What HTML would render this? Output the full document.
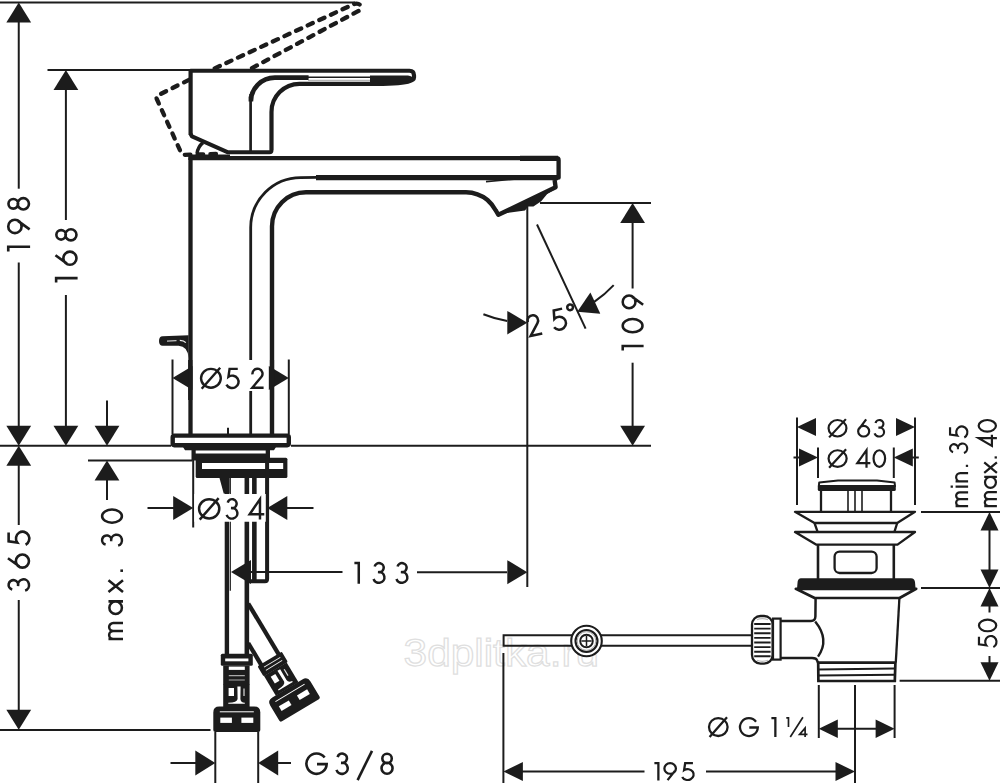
<!DOCTYPE html>
<html><head><meta charset="utf-8"><title>Drawing</title>
<style>html,body{margin:0;padding:0;background:#fff;overflow:hidden}svg{display:block}</style></head>
<body><svg width="1000" height="783" viewBox="0 0 1000 783" font-family="'Liberation Sans', sans-serif">
<rect width="1000" height="783" fill="#fff"/>
<text x="403.6" y="666" opacity="0.99" font-size="38.5" fill="none" stroke="#dfdfdf" stroke-width="1.25" textLength="195.5" lengthAdjust="spacingAndGlyphs">3dplitka.ru</text>
<path d="M0 2.5L355 2.5" stroke="#1c1c1c" stroke-width="2.0" fill="none" />
<path d="M18.75 2.50L31.15 22.50L6.35 22.50Z" fill="#1c1c1c"/>
<path d="M18.75 22L18.75 188.7" stroke="#1c1c1c" stroke-width="2.0" fill="none" />
<path d="M18.75 262.5L18.75 426" stroke="#1c1c1c" stroke-width="2.0" fill="none" />
<path d="M18.75 445.80L6.35 425.80L31.15 425.80Z" fill="#1c1c1c"/>
<path d="M47.5 70L190 70" stroke="#1c1c1c" stroke-width="2.0" fill="none" />
<path d="M65.90 70.00L78.30 90.00L53.50 90.00Z" fill="#1c1c1c"/>
<path d="M65.9 89L65.9 220" stroke="#1c1c1c" stroke-width="2.0" fill="none" />
<path d="M65.9 295L65.9 426" stroke="#1c1c1c" stroke-width="2.0" fill="none" />
<path d="M65.90 445.80L53.50 425.80L78.30 425.80Z" fill="#1c1c1c"/>
<path d="M0 445.8L171 445.8" stroke="#1c1c1c" stroke-width="2.0" fill="none" />
<path d="M291 445.8L651 445.8" stroke="#1c1c1c" stroke-width="2.0" fill="none" />
<path d="M18.75 445.80L31.15 465.80L6.35 465.80Z" fill="#1c1c1c"/>
<path d="M18.75 465L18.75 525" stroke="#1c1c1c" stroke-width="2.0" fill="none" />
<path d="M18.75 600L18.75 710" stroke="#1c1c1c" stroke-width="2.0" fill="none" />
<path d="M18.75 729.70L6.35 709.70L31.15 709.70Z" fill="#1c1c1c"/>
<path d="M0 730L210.5 730" stroke="#1c1c1c" stroke-width="2.0" fill="none" />
<path d="M107 400.5L107 426" stroke="#1c1c1c" stroke-width="2.0" fill="none" />
<path d="M107.00 445.80L94.60 425.80L119.40 425.80Z" fill="#1c1c1c"/>
<path d="M88 460.4L192.5 460.4" stroke="#1c1c1c" stroke-width="2.0" fill="none" />
<path d="M107.00 460.40L119.40 480.40L94.60 480.40Z" fill="#1c1c1c"/>
<path d="M107 479L107 500" stroke="#1c1c1c" stroke-width="2.0" fill="none" />
<path d="M212 69.6L354.5 3.8Q361 2.5 360.6 8.2Q360.3 10.2 358 11.2L251 68.6" stroke="#1c1c1c" stroke-width="4.3" fill="none" stroke-dasharray="5.6 7.2" stroke-linecap="round" stroke-dashoffset="-3"/>
<path d="M189 79.8L158 95.3Q155.6 96.6 156.8 99L181 152.5Q182 154.8 184.5 154.8L222 153.8" stroke="#1c1c1c" stroke-width="4.3" fill="none" stroke-dasharray="5.6 7.2" stroke-linecap="round"/>
<path d="M190.6 135L190.6 70.75L409.5 70.75Q414 70.75 414 75.2L414 77.5Q414 80.2 408 81.6Q398 83.9 370 83.9L299.5 83.9A28 28 0 0 0 271.5 111.9L271.5 150" stroke="#1c1c1c" stroke-width="4.2" fill="none" stroke-linejoin="round"/>
<path d="M190.6 134L192 136.4L228 152.3L269.5 152.3Q271.5 152.3 271.5 150" stroke="#1c1c1c" stroke-width="4.0" fill="none" stroke-linejoin="round"/>
<path d="M250.9 96.5L250.9 101.6A24 24 0 0 1 274.9 77.6L308.6 77.6" stroke="#1c1c1c" stroke-width="4.6" fill="none" />
<path d="M250.6 94L250.6 151" stroke="#1c1c1c" stroke-width="2.7" fill="none" />
<path d="M308 77.2L371 77.2" stroke="#1c1c1c" stroke-width="1.5" fill="none" />
<path d="M308 80.3H371" stroke="#999" stroke-width="0.9"/>
<path d="M370 75.4L408 75.4Q412.5 76 412.5 78Q412 80 406 81.4Q396 83.2 370 84.2Z" fill="#1c1c1c"/>
<path d="M197 153.5Q198 146.5 203 142.6" stroke="#1c1c1c" stroke-width="3.4" fill="none" />
<path d="M190.5 434L190.5 158.2L556.5 158.2Q558.6 158.2 558.6 160.2L558.6 177.7L316 177.7" stroke="#1c1c1c" stroke-width="4.3" fill="none" stroke-linejoin="round"/>
<path d="M520 158.4L558 158.4" stroke="#1c1c1c" stroke-width="5.2" fill="none" />
<path d="M316 177.7L558 177.7" stroke="#1c1c1c" stroke-width="5.2" fill="none" />
<path d="M486 181.6L520 178.6" stroke="#1c1c1c" stroke-width="1.6" fill="none" />
<path d="M188.4 157.2L230 157.2" stroke="#1c1c1c" stroke-width="5.6" fill="none" />
<path d="M317 177.4L300.6 177.6A50 50 0 0 0 250.7 227.6L250.7 360" stroke="#1c1c1c" stroke-width="2.8" fill="none" />
<path d="M250.7 391L250.7 434" stroke="#1c1c1c" stroke-width="2.8" fill="none" />
<path d="M272 434L272 226.3A34 34 0 0 1 306 192.3L466 192.3Q478 192.5 487.5 200Q492.5 204.4 495.6 210.2L498.4 214.8L555.6 187.2L554.6 180" stroke="#1c1c1c" stroke-width="4.4" fill="none" stroke-linejoin="round"/>
<path d="M498.4 214.6L555.6 187L554 189.8L547.2 194L541.2 201.2L533.4 206.4L528.2 206.4L525 210.4L508.5 212.8Z" fill="#1c1c1c"/>
<path d="M162.6 336.2L188.6 335.3L188.6 358Q187.6 346.2 178.6 345.8L162.6 345.8Q159 345.8 159 341Q159 336.2 162.6 336.2Z" fill="#1c1c1c"/>
<path d="M167 341.1L176.5 340.7" stroke="#f2f2f2" stroke-width="1" fill="none"/>
<path d="M179.8 340.3Q184 340.5 185.8 342.6" stroke="#f2f2f2" stroke-width="1.2" fill="none"/>
<path d="M172.5 359.5L172.5 434" stroke="#1c1c1c" stroke-width="2.0" fill="none" />
<path d="M288.8 359.5L288.8 434" stroke="#1c1c1c" stroke-width="2.0" fill="none" />
<path d="M172.50 378.00L192.50 366.00L192.50 390.00Z" fill="#1c1c1c"/>
<path d="M288.80 378.00L268.80 390.00L268.80 366.00Z" fill="#1c1c1c"/>
<path d="M190.25 360L190.25 400" stroke="#1c1c1c" stroke-width="4.2" fill="none" />
<path d="M272 360L272 400" stroke="#1c1c1c" stroke-width="4.2" fill="none" />
<path d="M228 427.7L228 434" stroke="#1c1c1c" stroke-width="2.0" fill="none" />
<rect x="172.7" y="435.6" width="116.1" height="9.6" rx="1.6" fill="#fff" stroke="#1c1c1c" stroke-width="4.4"/>
<path d="M183 447L276 447L274 450.2L270 450.2L270 460.6L191.5 460.6L191.5 450.2L185 450.2Z" fill="#1c1c1c"/>
<path d="M195.7 450.6H265.7V453.6H195.7Z" fill="#fff"/>
<rect x="195.7" y="457.8" width="91.7" height="20.2" rx="1.5" fill="#1c1c1c"/>
<path d="M202 463H283.2V469H202Z" fill="#fff"/>
<path d="M267.8 456L267.8 478" stroke="#1c1c1c" stroke-width="1.6" fill="none" />
<path d="M219.5 478L229.6 478L229.6 493.5L223.7 493.5Z" fill="#1c1c1c"/>
<path d="M230.3 478L230.3 590.7" stroke="#1c1c1c" stroke-width="1.2" fill="none" />
<path d="M226.9 493L226.9 655" stroke="#1c1c1c" stroke-width="4.4" fill="none" />
<path d="M246.85 478L246.85 655" stroke="#1c1c1c" stroke-width="4.6" fill="none" />
<path d="M254.35 478L254.35 580" stroke="#1c1c1c" stroke-width="4.6" fill="none" />
<path d="M267.1 456L267.1 579Q267.1 581.2 265 581.2L246 581.2" stroke="#1c1c1c" stroke-width="4.0" fill="none" />
<g transform="translate(236.8 732) rotate(0)">
<path d="M-21.5 0Q-23.5 0 -23.5 -2L-23.5 -19.5Q-23.5 -25.4 -17.5 -25.4L17.5 -25.4Q23.5 -25.4 23.5 -19.5L23.5 -2Q23.5 0 21.5 0Z" fill="#1c1c1c"/>
<path d="M-17 -20.2H17" stroke="#fff" stroke-width="1.0"/>
<rect x="-16.5" y="-14.4" width="11.6" height="5.3" fill="#fff"/>
<rect x="4.6" y="-14.4" width="11.9" height="5.3" fill="#fff"/>
<rect x="-13.6" y="-48" width="26.4" height="23" fill="#1c1c1c"/>
<path d="M0.6 -45.6L3.8 -45.6L3.6 -33Q3.8 -29.6 8 -29.2L8 -28.2L-8.5 -28.2L-8.5 -29.2Q0.4 -29.4 0.8 -33Z" fill="#fff"/>
<rect x="-8.2" y="-44" width="5.4" height="8" fill="#fff"/>
<path d="M7.2 -43.5L7.2 -36" stroke="#ddd" stroke-width="1.2"/>
<rect x="-13.6" y="-66.5" width="26.4" height="19" fill="#1c1c1c"/>
<rect x="-8" y="-65.4" width="16" height="3.3" fill="#fff"/>
<path d="M-8 -56.4H8M-8 -52H8" stroke="#aaa" stroke-width="1.1"/>
<rect x="-16" y="-78.3" width="32" height="12" rx="1.5" fill="#1c1c1c"/>
<rect x="-11.6" y="-73.5" width="23.2" height="2.8" fill="#fff"/>
</g>
<g transform="translate(300.4 710.2) rotate(-31.0)">
<path d="M-21.5 0Q-23.5 0 -23.5 -2L-23.5 -19.5Q-23.5 -25.4 -17.5 -25.4L17.5 -25.4Q23.5 -25.4 23.5 -19.5L23.5 -2Q23.5 0 21.5 0Z" fill="#1c1c1c"/>
<path d="M-17 -20.2H17" stroke="#fff" stroke-width="1.0"/>
<rect x="-16.5" y="-14.4" width="11.6" height="5.3" fill="#fff"/>
<rect x="4.6" y="-14.4" width="11.9" height="5.3" fill="#fff"/>
<rect x="-13.6" y="-48" width="26.4" height="23" fill="#1c1c1c"/>
<path d="M0.6 -45.6L3.8 -45.6L3.6 -33Q3.8 -29.6 8 -29.2L8 -28.2L-8.5 -28.2L-8.5 -29.2Q0.4 -29.4 0.8 -33Z" fill="#fff"/>
<rect x="-8.2" y="-44" width="5.4" height="8" fill="#fff"/>
<path d="M7.2 -43.5L7.2 -36" stroke="#ddd" stroke-width="1.2"/>
<rect x="-14.2" y="-59.8" width="28.4" height="12" rx="1.5" fill="#1c1c1c"/>
<path d="M-9 -55.6H10M-9 -52H10" stroke="#eee" stroke-width="0.9"/>
</g>
<path d="M278.86 654.55L248.2 603.52" stroke="#1c1c1c" stroke-width="4.3" fill="none" />
<path d="M261.37 665.05L248.2 643.13" stroke="#1c1c1c" stroke-width="4.3" fill="none" />
<path d="M193.2 460L193.2 527.5" stroke="#1c1c1c" stroke-width="2.0" fill="none" />
<path d="M194.2 494H266.3V521.7H194.2Z" fill="#fff"/>
<path d="M267 494L267 522" stroke="#1c1c1c" stroke-width="2.4" fill="none" />
<path d="M193.20 508.00L173.20 520.00L173.20 496.00Z" fill="#1c1c1c"/>
<path d="M147.5 508L174 508" stroke="#1c1c1c" stroke-width="2.0" fill="none" />
<path d="M267.30 508.00L287.30 496.00L287.30 520.00Z" fill="#1c1c1c"/>
<path d="M287 508L313.5 508" stroke="#1c1c1c" stroke-width="2.0" fill="none" />
<path d="M231.00 572.00L251.00 560.00L251.00 584.00Z" fill="#1c1c1c"/>
<path d="M250 572L342.5 572" stroke="#1c1c1c" stroke-width="2.0" fill="none" />
<path d="M417 572.2L507 572.2" stroke="#1c1c1c" stroke-width="2.0" fill="none" />
<path d="M527.30 572.20L507.30 584.20L507.30 560.20Z" fill="#1c1c1c"/>
<path d="M527.3 205L527.3 587" stroke="#1c1c1c" stroke-width="2.0" fill="none" />
<path d="M215.3 732L215.3 783" stroke="#1c1c1c" stroke-width="2.0" fill="none" />
<path d="M258.2 732L258.2 783" stroke="#1c1c1c" stroke-width="2.0" fill="none" />
<path d="M215.30 763.00L195.30 775.50L195.30 750.50Z" fill="#1c1c1c"/>
<path d="M170.5 763L196 763" stroke="#1c1c1c" stroke-width="2.0" fill="none" />
<path d="M258.20 763.00L278.20 750.50L278.20 775.50Z" fill="#1c1c1c"/>
<path d="M278 763L291 763" stroke="#1c1c1c" stroke-width="2.0" fill="none" />
<path d="M540 203L651 203" stroke="#1c1c1c" stroke-width="2.0" fill="none" />
<path d="M632.60 203.00L645.00 223.00L620.20 223.00Z" fill="#1c1c1c"/>
<path d="M632.6 222L632.6 288.5" stroke="#1c1c1c" stroke-width="2.0" fill="none" />
<path d="M632.6 362.7L632.6 426" stroke="#1c1c1c" stroke-width="2.0" fill="none" />
<path d="M632.60 445.80L620.20 425.80L645.00 425.80Z" fill="#1c1c1c"/>
<path d="M537 224.5L585.6 328.6" stroke="#1c1c1c" stroke-width="2.0" fill="none" />
<path d="M527.30 322.70L507.30 334.45L507.30 310.95Z" fill="#1c1c1c"/>
<path d="M507.2 321.0A118.2 118.2 0 0 1 483.4 314.2" stroke="#1c1c1c" stroke-width="2.0" fill="none" />
<path d="M577.25 311.63L590.41 292.52L600.35 313.82Z" fill="#1c1c1c"/>
<path d="M594.2 301.9A118.2 118.2 0 0 0 613.7 285.1" stroke="#1c1c1c" stroke-width="2.0" fill="none" />
<path d="M797 417.5L797 505" stroke="#1c1c1c" stroke-width="2.0" fill="none" />
<path d="M915 417.5L915 505" stroke="#1c1c1c" stroke-width="2.0" fill="none" />
<path d="M797.00 427.00L816.00 418.00L816.00 436.00Z" fill="#1c1c1c"/>
<path d="M915.00 427.00L896.00 436.00L896.00 418.00Z" fill="#1c1c1c"/>
<path d="M818 447.5L818 478" stroke="#1c1c1c" stroke-width="2.0" fill="none" />
<path d="M893.8 447.5L893.8 478" stroke="#1c1c1c" stroke-width="2.0" fill="none" />
<path d="M818.00 457.50L799.00 466.50L799.00 448.50Z" fill="#1c1c1c"/>
<path d="M793.5 457.5L800 457.5" stroke="#1c1c1c" stroke-width="2.0" fill="none" />
<path d="M893.80 457.50L912.80 448.50L912.80 466.50Z" fill="#1c1c1c"/>
<path d="M912 457.5L918.8 457.5" stroke="#1c1c1c" stroke-width="2.0" fill="none" />
<path d="M818.8 486L819.2 482.6L838 480.5L877 480.5L894.6 482.6L895 486Z" stroke="#1c1c1c" stroke-width="2.0" fill="#fff" stroke-linejoin="round"/>
<rect x="817.8" y="485" width="78" height="6" rx="1.5" fill="#1c1c1c"/>
<path d="M821 490L821 511.5" stroke="#1c1c1c" stroke-width="2.3" fill="none" />
<path d="M891 490L891 511.5" stroke="#1c1c1c" stroke-width="2.3" fill="none" />
<path d="M848 490L848 511.5" stroke="#1c1c1c" stroke-width="1.6" fill="none" />
<path d="M855 490L855 511.5" stroke="#1c1c1c" stroke-width="1.6" fill="none" />
<path d="M862 490L862 511.5" stroke="#1c1c1c" stroke-width="1.6" fill="none" />
<path d="M795 511.8L915 511.8L897.2 523L814.5 523Z" stroke="#1c1c1c" stroke-width="2.3" fill="none" stroke-linejoin="round"/>
<path d="M814.5 523L817.5 531.6M897.2 523L894.5 531.6" stroke="#1c1c1c" stroke-width="2.3" fill="none" />
<path d="M795 532L915 532L897.5 544.6L816 544.6Z" stroke="#1c1c1c" stroke-width="2.3" fill="none" stroke-linejoin="round"/>
<path d="M818 544.6L818 579" stroke="#1c1c1c" stroke-width="2.5999999999999996" fill="none" />
<path d="M893.8 544.6L893.8 579" stroke="#1c1c1c" stroke-width="2.5999999999999996" fill="none" />
<rect x="834.6" y="551.6" width="42" height="21.4" rx="5" fill="none" stroke="#1c1c1c" stroke-width="2.3"/>
<path d="M801 578.2L911 578.2Q914.5 578.4 915 582L915.6 589L797 589L797.6 582Q798 578.4 801 578.2Z" fill="#1c1c1c"/>
<path d="M795.8 588.8L916.2 588.8L899.6 598L814.6 598Z" stroke="#1c1c1c" stroke-width="2.6999999999999997" fill="none" stroke-linejoin="round"/>
<path d="M815.6 598L815.4 616.5Q815.2 621 811 621L780.4 621" stroke="#1c1c1c" stroke-width="2.5" fill="none" />
<path d="M780.4 658L812 658Q816.4 658 817.2 660.6L818.4 663.6" stroke="#1c1c1c" stroke-width="2.5" fill="none" />
<path d="M815.2 621.6Q830 640 818 656.6" stroke="#1c1c1c" stroke-width="2.4" fill="none" />
<path d="M899.4 598L895.8 662.5" stroke="#1c1c1c" stroke-width="2.3" fill="none" />
<path d="M818.2 662.6L895.4 662.6L894.8 681L818.4 681Z" stroke="#1c1c1c" stroke-width="2.6999999999999997" fill="none" />
<path d="M818.4 669.4L895 668.6M818.4 675.5L895 674.8" stroke="#1c1c1c" stroke-width="2.0" fill="none" />
<rect x="773" y="618.6" width="7.6" height="41" fill="#fff" stroke="#1c1c1c" stroke-width="2.2"/>
<rect x="752" y="616" width="20.6" height="47.6" rx="8.5" fill="#fff" stroke="#1c1c1c" stroke-width="2.3"/>
<path d="M757 619.6Q762 617.6 768 619.6M757 660.2Q762 662.4 768 660.2" stroke="#bbb" stroke-width="1.2" fill="none"/>
<path d="M754.2 624.0H770.6M754.2 628.6H770.6M754.2 633.2H770.6M754.2 637.9H770.6M754.2 642.5H770.6M754.2 647.1H770.6M754.2 651.7H770.6M754.2 656.3H770.6" stroke="#1c1c1c" stroke-width="1.9" fill="none" />
<path d="M751 635.2L503.6 635.2L503.6 645.8L751 645.8" stroke="#1c1c1c" stroke-width="2.0" fill="none" />
<circle cx="586.5" cy="641" r="15.3" fill="#fff" stroke="#1c1c1c" stroke-width="2.1"/>
<circle cx="586.5" cy="641" r="11" fill="#fff" stroke="#1c1c1c" stroke-width="2.1"/>
<circle cx="586.5" cy="641" r="9.3" fill="none" stroke="#8a8a8a" stroke-width="0.7"/>
<circle cx="586.5" cy="641" r="6.3" fill="#fff" stroke="#1c1c1c" stroke-width="1.9"/>
<path d="M581.4 641H591.6M586.5 636V646" stroke="#1c1c1c" stroke-width="1.5" fill="none" />
<path d="M921 512L1000 512" stroke="#1c1c1c" stroke-width="2.0" fill="none" />
<path d="M921 588L1000 588" stroke="#1c1c1c" stroke-width="2.0" fill="none" />
<path d="M899.6 680.8L1000 680.8" stroke="#1c1c1c" stroke-width="2.0" fill="none" />
<path d="M989.50 512.00L998.50 530.50L980.50 530.50Z" fill="#1c1c1c"/>
<path d="M989.5 530L989.5 570" stroke="#1c1c1c" stroke-width="2.0" fill="none" />
<path d="M989.50 588.00L980.50 569.50L998.50 569.50Z" fill="#1c1c1c"/>
<path d="M989.50 588.00L998.50 606.50L980.50 606.50Z" fill="#1c1c1c"/>
<path d="M989.5 606L989.5 612.5" stroke="#1c1c1c" stroke-width="2.0" fill="none" />
<path d="M989.5 656L989.5 663" stroke="#1c1c1c" stroke-width="2.0" fill="none" />
<path d="M989.50 680.80L980.50 662.30L998.50 662.30Z" fill="#1c1c1c"/>
<path d="M818.8 685L818.8 738" stroke="#1c1c1c" stroke-width="2.0" fill="none" />
<path d="M894.6 685L894.6 738" stroke="#1c1c1c" stroke-width="2.0" fill="none" />
<path d="M855 685L855 783" stroke="#1c1c1c" stroke-width="2.0" fill="none" />
<path d="M818.80 728.80L837.80 719.55L837.80 738.05Z" fill="#1c1c1c"/>
<path d="M894.60 728.80L875.60 738.05L875.60 719.55Z" fill="#1c1c1c"/>
<path d="M837 728.8L876 728.8" stroke="#1c1c1c" stroke-width="2.0" fill="none" />
<path d="M503.4 653L503.4 783" stroke="#1c1c1c" stroke-width="2.0" fill="none" />
<path d="M503.40 771.50L522.90 762.10L522.90 780.90Z" fill="#1c1c1c"/>
<path d="M522 771.5L644.5 771.5" stroke="#1c1c1c" stroke-width="2.0" fill="none" />
<path d="M706 771.5L836 771.5" stroke="#1c1c1c" stroke-width="2.0" fill="none" />
<path d="M855.00 771.50L835.50 780.90L835.50 762.10Z" fill="#1c1c1c"/>
<path transform="translate(30.1 251.4) rotate(-90) scale(23.0 23) translate(0 -1)" d="M0 .05L.2 .05L.2 1" fill="none" stroke="#1c1c1c" stroke-width="0.115"/>
<path transform="translate(30.1 234.2) rotate(-90) scale(23.0 23) translate(0 -1)" d="M.21 .98L.58 .47M.34 .05A.29 .29 0 1 1 .34 .63A.29 .29 0 1 1 .34 .05Z" fill="none" stroke="#1c1c1c" stroke-width="0.115"/>
<path transform="translate(30.1 210.6) rotate(-90) scale(23.0 23) translate(0 -1)" d="M.295 .06A.21 .21 0 1 1 .295 .48A.21 .21 0 1 1 .295 .06ZM.295 .46A.245 .245 0 1 1 .295 .95A.245 .245 0 1 1 .295 .46Z" fill="none" stroke="#1c1c1c" stroke-width="0.115"/>
<path transform="translate(77.6 282.6) rotate(-90) scale(22.6 22.6) translate(0 -1)" d="M0 .05L.2 .05L.2 1" fill="none" stroke="#1c1c1c" stroke-width="0.115"/>
<path transform="translate(77.6 265.9) rotate(-90) scale(22.6 22.6) translate(0 -1)" d="M.47 .02L.10 .53M.34 .37A.29 .29 0 1 1 .34 .95A.29 .29 0 1 1 .34 .37Z" fill="none" stroke="#1c1c1c" stroke-width="0.115"/>
<path transform="translate(77.6 241.5) rotate(-90) scale(22.6 22.6) translate(0 -1)" d="M.295 .06A.21 .21 0 1 1 .295 .48A.21 .21 0 1 1 .295 .06ZM.295 .46A.245 .245 0 1 1 .295 .95A.245 .245 0 1 1 .295 .46Z" fill="none" stroke="#1c1c1c" stroke-width="0.115"/>
<path transform="translate(30.1 591.3) rotate(-90) scale(22.6 22.6) translate(0 -1)" d="M.08 .21A.21 .21 0 1 1 .24 .465A.255 .245 0 1 1 .03 .78" fill="none" stroke="#1c1c1c" stroke-width="0.115"/>
<path transform="translate(30.1 568.8) rotate(-90) scale(22.6 22.6) translate(0 -1)" d="M.47 .02L.10 .53M.34 .37A.29 .29 0 1 1 .34 .95A.29 .29 0 1 1 .34 .37Z" fill="none" stroke="#1c1c1c" stroke-width="0.115"/>
<path transform="translate(30.1 545.2) rotate(-90) scale(22.6 22.6) translate(0 -1)" d="M.56 .05L.17 .05L.115 .43A.305 .295 0 1 1 .02 .80" fill="none" stroke="#1c1c1c" stroke-width="0.115"/>
<path transform="translate(123 640) rotate(-90) scale(22.0 22) translate(0 -1)" d="M.05 .34L.05 1M.05 .56A.18 .19 0 0 1 .41 .56L.41 1M.41 .56A.18 .19 0 0 1 .77 .56L.77 1" fill="none" stroke="#1c1c1c" stroke-width="0.115"/>
<path transform="translate(123 615) rotate(-90) scale(22.0 22) translate(0 -1)" d="M.62 .34L.62 1M.33 .38A.285 .285 0 1 1 .33 .95A.285 .285 0 1 1 .33 .38Z" fill="none" stroke="#1c1c1c" stroke-width="0.115"/>
<path transform="translate(123 592.5) rotate(-90) scale(22.0 22) translate(0 -1)" d="M.02 .34L.56 1M.56 .34L.02 1" fill="none" stroke="#1c1c1c" stroke-width="0.115"/>
<path transform="translate(123 572) rotate(-90) scale(22.0 22) translate(0 -1)" d="M.06 .88L.06 1" fill="none" stroke="#1c1c1c" stroke-width="0.115"/>
<path transform="translate(123 546.3) rotate(-90) scale(22.0 22) translate(0 -1)" d="M.08 .21A.21 .21 0 1 1 .24 .465A.255 .245 0 1 1 .03 .78" fill="none" stroke="#1c1c1c" stroke-width="0.115"/>
<path transform="translate(123 523.8) rotate(-90) scale(22.0 22) translate(0 -1)" d="M.35 .05A.30 .45 0 1 1 .35 .95A.30 .45 0 1 1 .35 .05Z" fill="none" stroke="#1c1c1c" stroke-width="0.115"/>
<path transform="translate(643.6 350.4) rotate(-90) scale(22.0 22) translate(0 -1)" d="M0 .05L.2 .05L.2 1" fill="none" stroke="#1c1c1c" stroke-width="0.115"/>
<path transform="translate(643.6 333.4) rotate(-90) scale(22.0 22) translate(0 -1)" d="M.35 .05A.30 .45 0 1 1 .35 .95A.30 .45 0 1 1 .35 .05Z" fill="none" stroke="#1c1c1c" stroke-width="0.115"/>
<path transform="translate(643.6 309.4) rotate(-90) scale(22.0 22) translate(0 -1)" d="M.21 .98L.58 .47M.34 .05A.29 .29 0 1 1 .34 .63A.29 .29 0 1 1 .34 .05Z" fill="none" stroke="#1c1c1c" stroke-width="0.115"/>
<path transform="translate(200 388.8) rotate(0) scale(21.0 21) translate(0 -1)" d="M.52 .05A.47 .45 0 1 1 .52 .95A.47 .45 0 1 1 .52 .05ZM.08 1L.96 0" fill="none" stroke="#1c1c1c" stroke-width="0.115"/>
<path transform="translate(226 388.8) rotate(0) scale(21.0 21) translate(0 -1)" d="M.56 .05L.17 .05L.115 .43A.305 .295 0 1 1 .02 .80" fill="none" stroke="#1c1c1c" stroke-width="0.115"/>
<path transform="translate(251 388.8) rotate(0) scale(21.0 21) translate(0 -1)" d="M.07 .31A.24 .24 0 1 1 .49 .44L.06 .95L.60 .95" fill="none" stroke="#1c1c1c" stroke-width="0.115"/>
<path transform="translate(198 519.6) rotate(0) scale(21.5 21.5) translate(0 -1)" d="M.52 .05A.47 .45 0 1 1 .52 .95A.47 .45 0 1 1 .52 .05ZM.08 1L.96 0" fill="none" stroke="#1c1c1c" stroke-width="0.115"/>
<path transform="translate(226 519.6) rotate(0) scale(21.5 21.5) translate(0 -1)" d="M.08 .21A.21 .21 0 1 1 .24 .465A.255 .245 0 1 1 .03 .78" fill="none" stroke="#1c1c1c" stroke-width="0.115"/>
<path transform="translate(248.8 519.6) rotate(0) scale(21.5 21.5) translate(0 -1)" d="M.52 1L.52 .05L.04 .75L.72 .75" fill="none" stroke="#1c1c1c" stroke-width="0.115"/>
<path transform="translate(354.4 583.8) rotate(0) scale(21.8 21.8) translate(0 -1)" d="M0 .05L.2 .05L.2 1" fill="none" stroke="#1c1c1c" stroke-width="0.115"/>
<path transform="translate(372.9 583.8) rotate(0) scale(21.8 21.8) translate(0 -1)" d="M.08 .21A.21 .21 0 1 1 .24 .465A.255 .245 0 1 1 .03 .78" fill="none" stroke="#1c1c1c" stroke-width="0.115"/>
<path transform="translate(395.8 583.8) rotate(0) scale(21.8 21.8) translate(0 -1)" d="M.08 .21A.21 .21 0 1 1 .24 .465A.255 .245 0 1 1 .03 .78" fill="none" stroke="#1c1c1c" stroke-width="0.115"/>
<path transform="translate(305.3 774.9) rotate(0) scale(22.5 22.5) translate(0 -1)" d="M.86 .23A.45 .45 0 1 0 .95 .52L.52 .52" fill="none" stroke="#1c1c1c" stroke-width="0.115"/>
<path transform="translate(335.8 774.9) rotate(0) scale(22.5 22.5) translate(0 -1)" d="M.08 .21A.21 .21 0 1 1 .24 .465A.255 .245 0 1 1 .03 .78" fill="none" stroke="#1c1c1c" stroke-width="0.115"/>
<path transform="translate(357.6 774.9) rotate(0) scale(22.5 22.5) translate(0 -1)" d="M.0 1.23L.64 -.07" fill="none" stroke="#1c1c1c" stroke-width="0.115"/>
<path transform="translate(380.4 774.9) rotate(0) scale(22.5 22.5) translate(0 -1)" d="M.295 .06A.21 .21 0 1 1 .295 .48A.21 .21 0 1 1 .295 .06ZM.295 .46A.245 .245 0 1 1 .295 .95A.245 .245 0 1 1 .295 .46Z" fill="none" stroke="#1c1c1c" stroke-width="0.115"/>
<path transform="translate(529.6 337.4) rotate(-12.5) scale(22.0 22) translate(0 -1)" d="M.07 .31A.24 .24 0 1 1 .49 .44L.06 .95L.60 .95" fill="none" stroke="#1c1c1c" stroke-width="0.115"/>
<path transform="translate(554.6 331.7) rotate(-12.5) scale(22.0 22) translate(0 -1)" d="M.56 .05L.17 .05L.115 .43A.305 .295 0 1 1 .02 .80" fill="none" stroke="#1c1c1c" stroke-width="0.115"/>
<path transform="translate(570.2 326.0) rotate(-12.5) scale(22.0 22) translate(0 -1)" d="M.18 .04A.13 .13 0 1 1 .18 .30A.13 .13 0 1 1 .18 .04Z" fill="none" stroke="#1c1c1c" stroke-width="0.115"/>
<path transform="translate(827.6 437.4) rotate(0) scale(19.032 18.3) translate(0 -1)" d="M.52 .05A.47 .45 0 1 1 .52 .95A.47 .45 0 1 1 .52 .05ZM.08 1L.96 0" fill="none" stroke="#1c1c1c" stroke-width="0.115"/>
<path transform="translate(857.2 437.4) rotate(0) scale(19.032 18.3) translate(0 -1)" d="M.47 .02L.10 .53M.34 .37A.29 .29 0 1 1 .34 .95A.29 .29 0 1 1 .34 .37Z" fill="none" stroke="#1c1c1c" stroke-width="0.115"/>
<path transform="translate(874 437.4) rotate(0) scale(19.032 18.3) translate(0 -1)" d="M.08 .21A.21 .21 0 1 1 .24 .465A.255 .245 0 1 1 .03 .78" fill="none" stroke="#1c1c1c" stroke-width="0.115"/>
<path transform="translate(827.6 467.8) rotate(0) scale(19.240000000000002 18.5) translate(0 -1)" d="M.52 .05A.47 .45 0 1 1 .52 .95A.47 .45 0 1 1 .52 .05ZM.08 1L.96 0" fill="none" stroke="#1c1c1c" stroke-width="0.115"/>
<path transform="translate(856.5 467.8) rotate(0) scale(19.240000000000002 18.5) translate(0 -1)" d="M.52 1L.52 .05L.04 .75L.72 .75" fill="none" stroke="#1c1c1c" stroke-width="0.115"/>
<path transform="translate(872.6 467.8) rotate(0) scale(19.240000000000002 18.5) translate(0 -1)" d="M.35 .05A.30 .45 0 1 1 .35 .95A.30 .45 0 1 1 .35 .05Z" fill="none" stroke="#1c1c1c" stroke-width="0.115"/>
<path transform="translate(968.1 507) rotate(-90) scale(19.0 19) translate(0 -1)" d="M.05 .34L.05 1M.05 .56A.18 .19 0 0 1 .41 .56L.41 1M.41 .56A.18 .19 0 0 1 .77 .56L.77 1" fill="none" stroke="#1c1c1c" stroke-width="0.115"/>
<path transform="translate(968.1 487.6) rotate(-90) scale(19.0 19) translate(0 -1)" d="M.05 .34L.05 1M.05 .08L.05 .20" fill="none" stroke="#1c1c1c" stroke-width="0.115"/>
<path transform="translate(968.1 482.4) rotate(-90) scale(19.0 19) translate(0 -1)" d="M.05 .34L.05 1M.05 .585A.22 .215 0 0 1 .49 .585L.49 1" fill="none" stroke="#1c1c1c" stroke-width="0.115"/>
<path transform="translate(968.1 467) rotate(-90) scale(19.0 19) translate(0 -1)" d="M.06 .88L.06 1" fill="none" stroke="#1c1c1c" stroke-width="0.115"/>
<path transform="translate(968.1 453.6) rotate(-90) scale(19.0 19) translate(0 -1)" d="M.08 .21A.21 .21 0 1 1 .24 .465A.255 .245 0 1 1 .03 .78" fill="none" stroke="#1c1c1c" stroke-width="0.115"/>
<path transform="translate(968.1 437.8) rotate(-90) scale(19.0 19) translate(0 -1)" d="M.56 .05L.17 .05L.115 .43A.305 .295 0 1 1 .02 .80" fill="none" stroke="#1c1c1c" stroke-width="0.115"/>
<path transform="translate(996.9 507) rotate(-90) scale(19.2 19.2) translate(0 -1)" d="M.05 .34L.05 1M.05 .56A.18 .19 0 0 1 .41 .56L.41 1M.41 .56A.18 .19 0 0 1 .77 .56L.77 1" fill="none" stroke="#1c1c1c" stroke-width="0.115"/>
<path transform="translate(996.9 488.7) rotate(-90) scale(19.2 19.2) translate(0 -1)" d="M.62 .34L.62 1M.33 .38A.285 .285 0 1 1 .33 .95A.285 .285 0 1 1 .33 .38Z" fill="none" stroke="#1c1c1c" stroke-width="0.115"/>
<path transform="translate(996.9 473.2) rotate(-90) scale(19.2 19.2) translate(0 -1)" d="M.02 .34L.56 1M.56 .34L.02 1" fill="none" stroke="#1c1c1c" stroke-width="0.115"/>
<path transform="translate(996.9 458.6) rotate(-90) scale(19.2 19.2) translate(0 -1)" d="M.06 .88L.06 1" fill="none" stroke="#1c1c1c" stroke-width="0.115"/>
<path transform="translate(996.9 446.6) rotate(-90) scale(19.2 19.2) translate(0 -1)" d="M.44 1L.44 .05L.04 .74L.62 .74" fill="none" stroke="#1c1c1c" stroke-width="0.115"/>
<path transform="translate(996.9 432.5) rotate(-90) scale(19.2 19.2) translate(0 -1)" d="M.35 .05A.30 .45 0 1 1 .35 .95A.30 .45 0 1 1 .35 .05Z" fill="none" stroke="#1c1c1c" stroke-width="0.115"/>
<path transform="translate(997.2 647.5) rotate(-90) scale(19.2 19.2) translate(0 -1)" d="M.56 .05L.17 .05L.115 .43A.305 .295 0 1 1 .02 .80" fill="none" stroke="#1c1c1c" stroke-width="0.115"/>
<path transform="translate(997.2 632.2) rotate(-90) scale(19.2 19.2) translate(0 -1)" d="M.35 .05A.30 .45 0 1 1 .35 .95A.30 .45 0 1 1 .35 .05Z" fill="none" stroke="#1c1c1c" stroke-width="0.115"/>
<path transform="translate(708 737) rotate(0) scale(19.8 19.8) translate(0 -1)" d="M.52 .05A.47 .45 0 1 1 .52 .95A.47 .45 0 1 1 .52 .05ZM.08 1L.96 0" fill="none" stroke="#1c1c1c" stroke-width="0.115"/>
<path transform="translate(739 737) rotate(0) scale(19.8 19.8) translate(0 -1)" d="M.86 .23A.45 .45 0 1 0 .95 .52L.52 .52" fill="none" stroke="#1c1c1c" stroke-width="0.115"/>
<path transform="translate(771.4 737) rotate(0) scale(19.8 19.8) translate(0 -1)" d="M0 .05L.2 .05L.2 1" fill="none" stroke="#1c1c1c" stroke-width="0.115"/>
<path transform="translate(786.3 737) rotate(0) scale(19.8 19.8) translate(0 -1)" d="M0 .035L.11 .035L.11 .50M.20 1L.84 0M.95 1L.95 .55L.67 .87L1.07 .87" fill="none" stroke="#1c1c1c" stroke-width="0.085"/>
<path transform="translate(654.4 780.6) rotate(0) scale(19.872 18.4) translate(0 -1)" d="M0 .05L.2 .05L.2 1" fill="none" stroke="#1c1c1c" stroke-width="0.115"/>
<path transform="translate(663.4 780.6) rotate(0) scale(19.872 18.4) translate(0 -1)" d="M.21 .98L.58 .47M.34 .05A.29 .29 0 1 1 .34 .63A.29 .29 0 1 1 .34 .05Z" fill="none" stroke="#1c1c1c" stroke-width="0.115"/>
<path transform="translate(681.8 780.6) rotate(0) scale(19.872 18.4) translate(0 -1)" d="M.56 .05L.17 .05L.115 .43A.305 .295 0 1 1 .02 .80" fill="none" stroke="#1c1c1c" stroke-width="0.115"/>
</svg></body></html>
